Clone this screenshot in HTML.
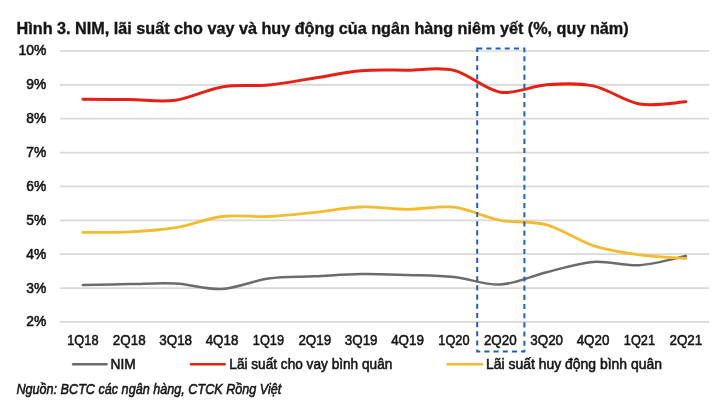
<!DOCTYPE html>
<html><head><meta charset="utf-8"><title>Chart</title>
<style>
html,body{margin:0;padding:0;background:#fff;}
body{width:720px;height:412px;overflow:hidden;font-family:"Liberation Sans",sans-serif;}
svg{display:block;filter:blur(0.45px);}
text{font-family:"Liberation Sans",sans-serif;fill:#151515;stroke:#151515;stroke-width:0.55px;}
.t{stroke-width:0.35px;}
</style></head><body>
<svg width="720" height="412" viewBox="0 0 720 412">
<rect width="720" height="412" fill="#fff"/>
<text x="16.6" y="34" font-size="15.6" class="t" font-weight="bold" textLength="612" lengthAdjust="spacingAndGlyphs" fill="#111">Hình 3. NIM, lãi suất cho vay và huy động của ngân hàng niêm yết (%, quy năm)</text>
<line x1="59.7" x2="709" y1="50.96" y2="50.96" stroke="#d9d9d9" stroke-width="1.8"/>
<text x="46.3" y="55.46" font-size="14.1" text-anchor="end" textLength="27.9" lengthAdjust="spacingAndGlyphs">10%</text>
<line x1="59.7" x2="709" y1="84.83" y2="84.83" stroke="#d9d9d9" stroke-width="1.8"/>
<text x="46.3" y="89.33" font-size="14.1" text-anchor="end" textLength="20" lengthAdjust="spacingAndGlyphs">9%</text>
<line x1="59.7" x2="709" y1="118.70" y2="118.70" stroke="#d9d9d9" stroke-width="1.8"/>
<text x="46.3" y="123.20" font-size="14.1" text-anchor="end" textLength="20" lengthAdjust="spacingAndGlyphs">8%</text>
<line x1="59.7" x2="709" y1="152.57" y2="152.57" stroke="#d9d9d9" stroke-width="1.8"/>
<text x="46.3" y="157.07" font-size="14.1" text-anchor="end" textLength="20" lengthAdjust="spacingAndGlyphs">7%</text>
<line x1="59.7" x2="709" y1="186.44" y2="186.44" stroke="#d9d9d9" stroke-width="1.8"/>
<text x="46.3" y="190.94" font-size="14.1" text-anchor="end" textLength="20" lengthAdjust="spacingAndGlyphs">6%</text>
<line x1="59.7" x2="709" y1="220.31" y2="220.31" stroke="#d9d9d9" stroke-width="1.8"/>
<text x="46.3" y="224.81" font-size="14.1" text-anchor="end" textLength="20" lengthAdjust="spacingAndGlyphs">5%</text>
<line x1="59.7" x2="709" y1="254.18" y2="254.18" stroke="#d9d9d9" stroke-width="1.8"/>
<text x="46.3" y="258.68" font-size="14.1" text-anchor="end" textLength="20" lengthAdjust="spacingAndGlyphs">4%</text>
<line x1="59.7" x2="709" y1="288.05" y2="288.05" stroke="#d9d9d9" stroke-width="1.8"/>
<text x="46.3" y="292.55" font-size="14.1" text-anchor="end" textLength="20" lengthAdjust="spacingAndGlyphs">3%</text>
<line x1="59.7" x2="709" y1="321.92" y2="321.92" stroke="#d9d9d9" stroke-width="1.8"/>
<text x="46.3" y="326.42" font-size="14.1" text-anchor="end" textLength="20" lengthAdjust="spacingAndGlyphs">2%</text>
<text x="82.89" y="345.0" font-size="14.5" text-anchor="middle" textLength="31.2" lengthAdjust="spacingAndGlyphs">1Q18</text>
<text x="129.27" y="345.0" font-size="14.5" text-anchor="middle" textLength="32.8" lengthAdjust="spacingAndGlyphs">2Q18</text>
<text x="175.65" y="345.0" font-size="14.5" text-anchor="middle" textLength="32.8" lengthAdjust="spacingAndGlyphs">3Q18</text>
<text x="222.03" y="345.0" font-size="14.5" text-anchor="middle" textLength="32.8" lengthAdjust="spacingAndGlyphs">4Q18</text>
<text x="268.41" y="345.0" font-size="14.5" text-anchor="middle" textLength="31.2" lengthAdjust="spacingAndGlyphs">1Q19</text>
<text x="314.79" y="345.0" font-size="14.5" text-anchor="middle" textLength="32.8" lengthAdjust="spacingAndGlyphs">2Q19</text>
<text x="361.17" y="345.0" font-size="14.5" text-anchor="middle" textLength="32.8" lengthAdjust="spacingAndGlyphs">3Q19</text>
<text x="407.55" y="345.0" font-size="14.5" text-anchor="middle" textLength="32.8" lengthAdjust="spacingAndGlyphs">4Q19</text>
<text x="453.93" y="345.0" font-size="14.5" text-anchor="middle" textLength="31.2" lengthAdjust="spacingAndGlyphs">1Q20</text>
<text x="500.31" y="345.0" font-size="14.5" text-anchor="middle" textLength="32.8" lengthAdjust="spacingAndGlyphs">2Q20</text>
<text x="546.69" y="345.0" font-size="14.5" text-anchor="middle" textLength="32.8" lengthAdjust="spacingAndGlyphs">3Q20</text>
<text x="593.07" y="345.0" font-size="14.5" text-anchor="middle" textLength="32.8" lengthAdjust="spacingAndGlyphs">4Q20</text>
<text x="639.45" y="345.0" font-size="14.5" text-anchor="middle" textLength="31.2" lengthAdjust="spacingAndGlyphs">1Q21</text>
<text x="685.83" y="345.0" font-size="14.5" text-anchor="middle" textLength="32.8" lengthAdjust="spacingAndGlyphs">2Q21</text>
<line x1="478.4" x2="523.2" y1="50.96" y2="50.96" stroke="#e8e6e1" stroke-width="1.8"/>
<path d="M82.89,284.90 C90.62,284.77 113.81,284.33 129.27,284.10 C144.73,283.87 160.19,282.68 175.65,283.50 C191.11,284.32 206.57,289.83 222.03,289.00 C237.49,288.17 252.95,280.62 268.41,278.50 C283.87,276.38 299.33,277.05 314.79,276.30 C330.25,275.55 345.71,274.22 361.17,274.00 C376.63,273.78 392.09,274.50 407.55,275.00 C423.01,275.50 438.47,275.42 453.93,277.00 C469.39,278.58 484.85,285.30 500.31,284.50 C515.77,283.70 531.23,275.97 546.69,272.20 C562.15,268.43 577.61,263.07 593.07,261.90 C608.53,260.73 623.99,266.17 639.45,265.20 C654.91,264.23 678.10,257.62 685.83,256.10" fill="none" stroke="#6b6b6b" stroke-width="2.5" stroke-linecap="round" stroke-linejoin="round"/>
<path d="M82.89,99.30 C90.62,99.33 113.81,99.35 129.27,99.50 C144.73,99.65 160.19,102.30 175.65,100.20 C191.11,98.10 206.57,89.43 222.03,86.90 C237.49,84.37 252.95,86.48 268.41,85.00 C283.87,83.52 299.33,80.38 314.79,78.00 C330.25,75.62 345.71,72.00 361.17,70.70 C376.63,69.40 392.09,70.25 407.55,70.20 C423.01,70.15 438.47,66.73 453.93,70.40 C469.39,74.07 484.85,89.80 500.31,92.20 C515.77,94.60 531.23,85.85 546.69,84.80 C562.15,83.75 577.61,82.72 593.07,85.90 C608.53,89.08 623.99,101.27 639.45,103.90 C654.91,106.53 678.10,102.07 685.83,101.70" fill="none" stroke="#e81f12" stroke-width="3" stroke-linecap="round" stroke-linejoin="round"/>
<path d="M82.89,232.40 C90.62,232.32 113.81,232.68 129.27,231.90 C144.73,231.12 160.19,230.27 175.65,227.70 C191.11,225.13 206.57,218.37 222.03,216.50 C237.49,214.63 252.95,217.20 268.41,216.50 C283.87,215.80 299.33,213.88 314.79,212.30 C330.25,210.72 345.71,207.50 361.17,207.00 C376.63,206.50 392.09,209.27 407.55,209.30 C423.01,209.33 438.47,205.37 453.93,207.20 C469.39,209.03 484.85,217.37 500.31,220.30 C515.77,223.23 531.23,220.58 546.69,224.80 C562.15,229.02 577.61,240.58 593.07,245.60 C608.53,250.62 623.99,252.77 639.45,254.90 C654.91,257.03 678.10,257.82 685.83,258.40" fill="none" stroke="#f3bb30" stroke-width="2.8" stroke-linecap="round" stroke-linejoin="round"/>
<rect x="477.2" y="48.4" width="47.2" height="303.2" fill="none" stroke="#1f62b4" stroke-width="2" stroke-dasharray="5.1 4.075"/>
<line x1="73.1" x2="106.5" y1="364.2" y2="364.2" stroke="#6b6b6b" stroke-width="2.5" stroke-linecap="round"/>
<text x="110.6" y="369" font-size="14" textLength="25.2" lengthAdjust="spacingAndGlyphs">NIM</text>
<line x1="191" x2="224.6" y1="364.2" y2="364.2" stroke="#e81f12" stroke-width="2.5" stroke-linecap="round"/>
<text x="229.3" y="369" font-size="14" textLength="163" lengthAdjust="spacingAndGlyphs">Lãi suất cho vay bình quân</text>
<line x1="447.6" x2="481.9" y1="364.2" y2="364.2" stroke="#f3bb30" stroke-width="2.5" stroke-linecap="round"/>
<text x="486" y="369" font-size="14" textLength="176" lengthAdjust="spacingAndGlyphs">Lãi suất huy động bình quân</text>
<text x="16.4" y="393.5" font-size="14.5" font-style="italic" textLength="265" lengthAdjust="spacingAndGlyphs">Nguồn: BCTC các ngân hàng, CTCK Rồng Việt</text>
</svg></body></html>
